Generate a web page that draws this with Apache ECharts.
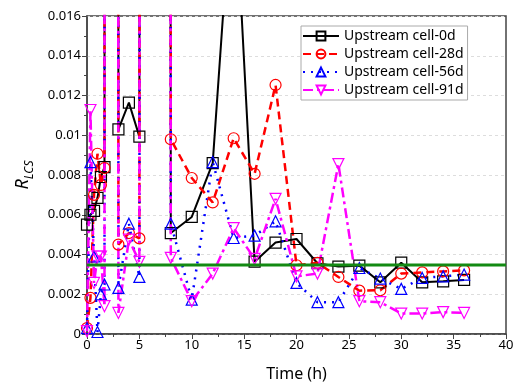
<!DOCTYPE html>
<html>
<head>
<meta charset="utf-8">
<script src="https://cdn.jsdelivr.net/npm/echarts@6/dist/echarts.min.js"></script>
<style>html,body{margin:0;padding:0;background:#fff}#c{width:525px;height:387px}</style>
</head>
<body>
<div id="c"></div>
<script>
// off-scale readings (lines run straight off the top of the frame), in units of 1e-3
var H = 1000;
var times = [0, 0.33, 0.67, 1, 1.33, 1.67, 2, 3, 4, 5, 6.5, 8, 10, 12, 14, 16, 18, 20, 22, 24, 26, 28, 30, 32, 34, 36];
// values in units of 1e-3
var cell0d  = [5.5, 6.0, 6.2, 6.85, 7.9, 8.4, H, 10.3, 11.64, 9.93, H, 5.08, 5.89, 8.6, 23.7, 3.64, 4.6, 4.78, 3.56, 3.39, 3.44, 2.6, 3.59, 2.6, 2.65, 2.72];
var cell28d = [0.3, 1.82, 7.0, 9.07, 7.5, 8.35, H, 4.5, 5.08, 4.81, H, 9.8, 7.85, 6.62, 9.85, 8.06, 12.53, 3.46, 3.58, 2.87, 2.18, 2.2, 3.04, 3.1, 3.15, 3.2];
var cell56d = [0.3, 8.65, 3.9, 0.1, 2.0, 2.49, H, 2.32, 5.55, 2.87, H, 5.55, 1.73, 8.65, 4.83, 4.95, 5.67, 2.57, 1.6, 1.6, 3.32, 2.79, 2.27, 2.82, 2.9, 2.99];
var cell91d = [0.14, 11.27, 2.57, 3.9, 3.9, 1.4, H, 1.06, 4.75, 3.63, H, 3.83, 1.65, 3.04, 5.33, 3.78, 6.8, 2.9, 3.04, 8.55, 1.65, 1.6, 1.03, 1.03, 1.1, 1.06];
var threshold = 3.47; // 1e-3
var seriesNames = ['Upstream cell-0d', 'Upstream cell-28d', 'Upstream cell-56d', 'Upstream cell-91d'];
var xTicks = {min: 0, max: 40, step: 5};
var yTicks = {min: 0, max: 0.016, step: 0.002};

function pairs(vals) {
  return times.map(function (t, i) { return [t, vals[i] / 1000]; });
}

var FONT = 'Noto Sans';
function mk(name, vals, color, symbol, rotate, dash, width) {
  return {
    name: name, type: 'line', data: pairs(vals), clip: true,
    symbol: symbol, symbolSize: 11, symbolRotate: rotate,
    lineStyle: {color: color, width: width, type: dash, cap: 'butt'},
    itemStyle: {color: 'rgba(255,255,255,0)', borderColor: color, borderWidth: 1.2},
    emphasis: {disabled: true}, animation: false
  };
}

var chart = echarts.init(document.getElementById('c'), null, {renderer: 'canvas'});
chart.setOption({
  animation: false,
  backgroundColor: '#fff',
  grid: {left: 87, right: 19, top: 16, bottom: 52, show: true, borderColor: '#444', borderWidth: 1.5, backgroundColor: 'transparent'},
  legend: {
    orient: 'vertical', left: 301, top: 26, itemWidth: 36, itemHeight: 11, itemGap: 4,
    padding: [3, 4, 3, 1], borderColor: '#aaa', borderWidth: 1, backgroundColor: '#fff',
    textStyle: {fontFamily: FONT, fontSize: 14, color: '#000'},
    data: seriesNames
  },
  xAxis: {
    type: 'value', min: xTicks.min, max: xTicks.max, interval: xTicks.step,
    name: 'Time (h)', nameLocation: 'middle', nameGap: 32,
    nameTextStyle: {fontFamily: FONT, fontSize: 16, color: '#000'},
    axisLine: {lineStyle: {color: '#444', width: 1.5}},
    axisTick: {length: 5, lineStyle: {color: '#444'}},
    minorTick: {show: true, splitNumber: 2, length: 3, lineStyle: {color: '#444'}},
    axisLabel: {fontFamily: FONT, fontSize: 13, color: '#000', margin: 5},
    splitLine: {show: false}
  },
  yAxis: {
    type: 'value', min: yTicks.min, max: yTicks.max, interval: yTicks.step,
    name: '{a|R}{b|LCS}', nameLocation: 'middle', nameGap: 55, nameRotate: 90,
    nameTextStyle: {
      fontFamily: FONT, color: '#000',
      rich: {
        a: {fontFamily: FONT, fontSize: 18, fontStyle: 'italic', color: '#000', verticalAlign: 'bottom', lineHeight: 22},
        b: {fontFamily: FONT, fontSize: 12, fontStyle: 'italic', color: '#000', verticalAlign: 'bottom', lineHeight: 22, padding: [0, 0, -4, 0]}
      }
    },
    axisLine: {show: true, lineStyle: {color: '#444', width: 1.5}},
    axisTick: {show: true, length: 5, lineStyle: {color: '#444'}},
    minorTick: {show: true, splitNumber: 2, length: 3, lineStyle: {color: '#444'}},
    axisLabel: {fontFamily: FONT, fontSize: 13, color: '#000', margin: 6},
    splitLine: {show: true, lineStyle: {color: '#ddd', type: [3, 3], width: 1}}
  },
  series: [
    mk(seriesNames[0], cell0d, '#000000', 'rect', 0, 'solid', 2),
    mk(seriesNames[1], cell28d, '#ff0000', 'circle', 0, [8, 5], 2.5),
    mk(seriesNames[2], cell56d, '#0000ff', 'triangle', 0, [2, 6], 2.5),
    mk(seriesNames[3], cell91d, '#ff00ff', 'triangle', 180, [10, 4, 3, 4], 2.5),
    {
      name: 'threshold', type: 'line', symbol: 'none', silent: true, animation: false,
      data: [[xTicks.min, threshold / 1000], [xTicks.max, threshold / 1000]],
      lineStyle: {color: '#138a13', width: 3}, z: 5
    }
  ]
});
</script>
</body>
</html>
